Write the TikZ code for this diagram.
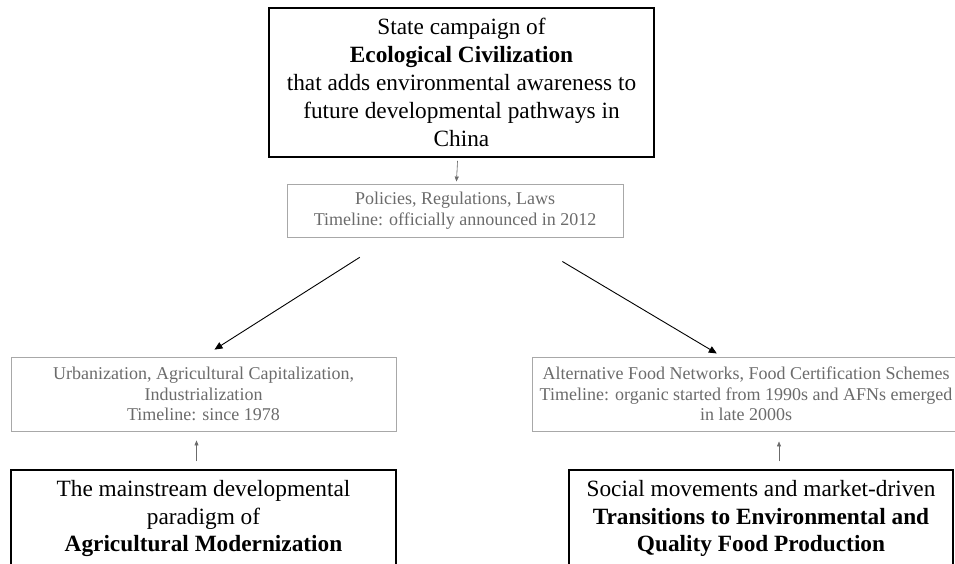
\documentclass[tikz,border=0pt]{standalone}
\usepackage{fontspec}
\setmainfont{Liberation Serif}
\usetikzlibrary{arrows.meta}
\definecolor{boxgrey}{HTML}{A8A8A8}
\definecolor{textgrey}{HTML}{6B6B6B}

\begin{document}
\begin{tikzpicture}[x=1pt, y=-1pt,
      big/.style={draw, line width=1.6pt, align=center, inner sep=0pt, font=\fontsize{23.3}{27.8}\selectfont},
      grey/.style={draw=boxgrey, line width=0.9pt, text=textgrey, align=center, inner sep=0pt, font=\fontsize{18}{20.5}\selectfont},
      link/.style={-{Triangle[length=8pt, width=7pt]}, line width=0.9pt},
      thinlink/.style={-{Triangle[length=5pt, width=4pt]}, draw=textgrey, fill=textgrey, line width=0.6pt},
    ]
      \useasboundingbox (0,0) rectangle (955,563);
      \clip (0,0) rectangle (955,563);
      \node[big, minimum width=385pt, minimum height=149pt] (eco) at (461.5,82.5)
        {State campaign of\\ \textbf{Ecological Civilization}\\ that adds environmental awareness to\\ future developmental pathways in\\ China};
      \node[grey, minimum width=336pt, minimum height=53pt] (pol) at (455,210.5)
        {Policies, Regulations, Laws\\ Timeline: officially announced in 2012};
      \node[grey, minimum width=385pt, minimum height=74pt] (urb) at (203.5,394)
        {Urbanization, Agricultural Capitalization,\\ Industrialization\\ Timeline: since 1978};
      \node[grey, minimum width=428pt, minimum height=74pt] (alt) at (746,394)
        {Alternative Food Networks, Food Certification Schemes\\ Timeline: organic started from 1990s and AFNs emerged\\ in late 2000s};
      \node[big, minimum width=385pt, minimum height=97pt] (agri) at (203.5,518.5)
        {The mainstream developmental\\ paradigm of\\ \textbf{Agricultural Modernization}};
      \node[big, minimum width=384pt, minimum height=97pt] (trans) at (761,518.5)
        {Social movements and market-driven\\ \textbf{Transitions to Environmental and}\\ \textbf{Quality Food Production}};
      \draw[thinlink, shorten <=3pt, shorten >=2pt] (eco) -- (pol);
      \draw[link, shorten <=37pt, shorten >=13pt] ([xshift=-64pt]pol.south) -- (urb.north);
      \draw[link, shorten <=47pt, shorten >=6pt] ([xshift=67pt]pol.south) -- ([xshift=-24pt]alt.north);
      \draw[thinlink, shorten <=8pt, shorten >=9pt] ([xshift=-7pt]agri.north) -- ([xshift=-7pt]urb.south);
      \draw[thinlink, shorten <=8pt, shorten >=10pt] ([xshift=18pt]trans.north) -- ([xshift=18pt]trans.north |- alt.south);
    \end{tikzpicture}
\end{document}
